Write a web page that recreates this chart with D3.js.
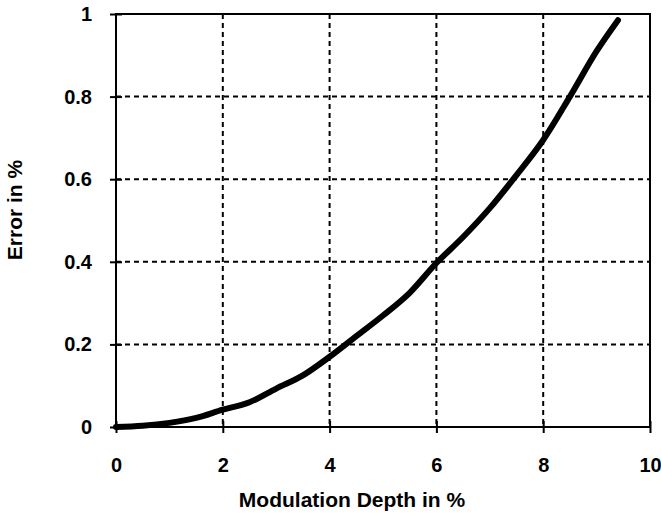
<!DOCTYPE html>
<html>
<head>
<meta charset="utf-8">
<script src="https://cdn.jsdelivr.net/npm/d3@7"></script>
<style>
  html, body { margin: 0; padding: 0; background: #fff; }
  svg { display: block; }
  text { font-family: "Liberation Sans", Arial, sans-serif; font-weight: bold; fill: #000; }
</style>
</head>
<body>
<svg id="chart" width="661" height="513"></svg>
<script>
// Modulation depth (%) and resulting error (%)
const depth = [0, 0.5, 1, 1.5, 2, 2.5, 3, 3.5, 4, 4.5, 5, 5.5, 6, 6.5, 7, 7.5, 8, 8.5, 9, 9.4];
const error = [0, 0.003, 0.01, 0.022, 0.042, 0.06, 0.093, 0.125, 0.17, 0.22, 0.27, 0.325, 0.397, 0.46, 0.53, 0.61, 0.695, 0.80, 0.91, 0.985];

const xTicks = [0, 2, 4, 6, 8, 10];
const yTicks = [0, 0.2, 0.4, 0.6, 0.8, 1];
const xTitle = "Modulation Depth in %";
const yTitle = "Error in %";

const svg = d3.select("#chart");
const x = d3.scaleLinear().domain([0, 10]).range([116, 650]);
const y = d3.scaleLinear().domain([0, 1]).range([427, 14]);

// dashed grid
const grid = svg.append("g").attr("stroke", "#000").attr("stroke-width", 2)
  .attr("stroke-dasharray", "5,4").attr("fill", "none");
grid.selectAll("line.v").data(xTicks.slice(1, -1)).join("line")
  .attr("x1", d => x(d)).attr("x2", d => x(d))
  .attr("y1", y(1)).attr("y2", y(0));
grid.selectAll("line.h").data(yTicks.slice(1, -1)).join("line")
  .attr("x1", x(0)).attr("x2", x(10))
  .attr("y1", d => y(d)).attr("y2", d => y(d));

// frame
svg.append("rect")
  .attr("x", x(0)).attr("y", y(1))
  .attr("width", x(10) - x(0)).attr("height", y(0) - y(1))
  .attr("fill", "none").attr("stroke", "#000").attr("stroke-width", 2);

// axes with crossing tick marks
const xAxis = d3.axisBottom(x).tickValues(xTicks).tickSize(6).tickPadding(25)
  .tickFormat(d3.format("d"));
const gx = svg.append("g").attr("transform", `translate(0,${y(0)})`).call(xAxis);
gx.select(".domain").remove();
gx.selectAll(".tick line").attr("y1", -6).attr("y2", 6).attr("stroke-width", 2);
gx.selectAll(".tick text").style("font-size", "20px");

const yAxis = d3.axisLeft(y).tickValues(yTicks).tickSize(6).tickPadding(18)
  .tickFormat(d => d === 0 || d === 1 ? d3.format("d")(d) : d3.format(".1f")(d));
const gy = svg.append("g").attr("transform", `translate(${x(0)},0)`).call(yAxis);
gy.select(".domain").remove();
gy.selectAll(".tick line").attr("x1", -6).attr("x2", 6).attr("stroke-width", 2);
gy.selectAll(".tick text").style("font-size", "20px");

// curve
const line = d3.line()
  .x((d, i) => x(depth[i]))
  .y(d => y(d))
  .curve(d3.curveMonotoneX);
svg.append("path")
  .datum(error)
  .attr("d", line)
  .attr("fill", "none")
  .attr("stroke", "#000")
  .attr("stroke-width", 6)
  .attr("stroke-linecap", "round");

// titles
svg.append("text")
  .attr("x", 352).attr("y", 507)
  .attr("text-anchor", "middle")
  .style("font-size", "21px")
  .text(xTitle);
svg.append("text")
  .attr("transform", `translate(22,210) rotate(-90)`)
  .attr("text-anchor", "middle")
  .style("font-size", "21px")
  .text(yTitle);
</script>
</body>
</html>
